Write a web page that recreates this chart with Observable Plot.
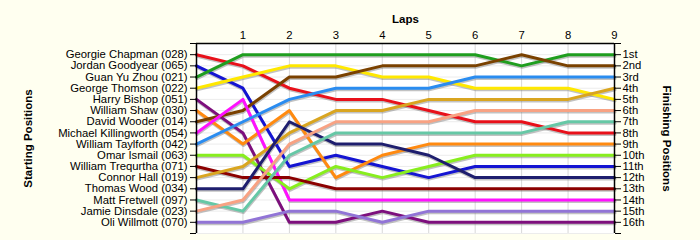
<!DOCTYPE html>
<html>
<head>
<meta charset="utf-8">
<script src="https://cdn.jsdelivr.net/npm/d3@7"></script>
<script src="https://cdn.jsdelivr.net/npm/@observablehq/plot@0.6"></script>
<style>
  html, body { margin: 0; padding: 0; background: #fffff0; }
</style>
</head>
<body>
<div id="chart"></div>
<script>
const laps = [0, 1, 2, 3, 4, 5, 6, 7, 8, 9];
const drivers = [
  "Georgie Chapman (028)", "Jordan Goodyear (065)", "Guan Yu Zhou (021)", "George Thomson (022)",
  "Harry Bishop (051)", "William Shaw (030)", "David Wooder (014)", "Michael Killingworth (054)",
  "William Taylforth (042)", "Omar Ismail (063)", "William Trequrtha (071)", "Connor Hall (019)",
  "Thomas Wood (034)", "Matt Fretwell (097)", "Jamie Dinsdale (023)", "Oli Willmott (070)"
];
const finishLabels = ["1st","2nd","3rd","4th","5th","6th","7th","8th","9th","10th","11th","12th","13th","14th","15th","16th"];
// positions per lap (lap 0 .. lap 9)
const positions = [
  [1, 2, 4, 5, 5, 6, 7, 7, 8, 8],
  [2, 4, 11, 10, 11, 12, 11, 11, 11, 11],
  [3, 1, 1, 1, 1, 1, 1, 2, 1, 1],
  [4, 3, 2, 2, 3, 3, 4, 4, 4, 5],
  [5, 8, 16, 16, 15, 16, 16, 16, 16, 16],
  [6, 9, 6, 12, 10, 9, 9, 9, 9, 9],
  [7, 6, 3, 3, 2, 2, 2, 1, 2, 2],
  [8, 5, 14, 14, 14, 14, 14, 14, 14, 14],
  [9, 7, 5, 4, 4, 4, 3, 3, 3, 3],
  [10, 10, 13, 11, 12, 11, 10, 10, 10, 10],
  [11, 12, 12, 13, 13, 13, 13, 13, 13, 13],
  [12, 11, 8, 6, 6, 5, 5, 5, 5, 4],
  [13, 13, 7, 9, 9, 10, 12, 12, 12, 12],
  [14, 15, 10, 8, 8, 8, 8, 8, 7, 7],
  [15, 14, 9, 7, 7, 7, 6, 6, 6, 6],
  [16, 16, 15, 15, 16, 15, 15, 15, 15, 15]
];
const palette = [
  "#e8101a", "#1414d2", "#1f9e1f", "#ffe800", "#7d0f7d", "#ff8a10", "#7a4100", "#ff10ff",
  "#2a8cf0", "#88ee1e", "#8b0000", "#d9a520", "#1e1e6e", "#66c8a6", "#f8a283", "#9174d6"
];

const rows = [];
drivers.forEach((d, i) => laps.forEach((l, j) => rows.push({driver: d, lap: l, pos: positions[i][j]})));

const rowTicks = d3.range(0, drivers.length + 2);

const chart = Plot.plot({
  width: 700,
  height: 240,
  marginLeft: 196,
  marginRight: 86,
  marginTop: 43,
  marginBottom: 7,
  style: {fontFamily: "'Liberation Sans', Arial, sans-serif", fontSize: "11.3px", background: "#fffff0", color: "black", overflow: "visible"},
  x: {domain: [0, 9]},
  y: {domain: [0, 17], reverse: true},
  color: {domain: drivers, range: palette},
  marks: [
    Plot.frame({fill: "white", stroke: null}),
    Plot.gridX(laps.slice(1, -1), {stroke: "#d8d8d8", strokeOpacity: 1}),
    Plot.gridY(d3.range(1, 18), {stroke: "#ececec", strokeOpacity: 1}),
    Plot.line(rows, {x: "lap", y: "pos", z: "driver", stroke: "#777", strokeOpacity: 0.45, strokeWidth: 3, dx: 0.5, dy: 1.5}),
    Plot.line(rows, {x: "lap", y: "pos", z: "driver", stroke: "driver", strokeWidth: 3}),
    Plot.ruleX([0, 9], {stroke: "black", strokeWidth: 1.5}),
    Plot.ruleY([0], {stroke: "black", strokeWidth: 1.5}),
    Plot.axisX({anchor: "top", ticks: laps.slice(1), tickSize: 0, tickPadding: 5, label: null}),
    Plot.axisY({anchor: "left", ticks: rowTicks, tickFormat: i => drivers[i - 1] ?? "", tickSize: 6, tickPadding: 3, label: null}),
    Plot.axisY({anchor: "right", ticks: rowTicks, tickFormat: i => finishLabels[i - 1] ?? "", tickSize: 6, tickPadding: 2, label: null}),
    Plot.text(["Laps"], {frameAnchor: "top", dy: -29, fontWeight: "bold", fontSize: 11.5}),
    Plot.text(["Starting Positions"], {frameAnchor: "left", textAnchor: "middle", dx: -168, rotate: -90, fontWeight: "bold", fontSize: 11.5}),
    Plot.text(["Finishing Positions"], {frameAnchor: "right", textAnchor: "middle", dx: 52, rotate: 90, fontWeight: "bold", fontSize: 11.5})
  ]
});
document.getElementById("chart").appendChild(chart);
</script>
</body>
</html>
